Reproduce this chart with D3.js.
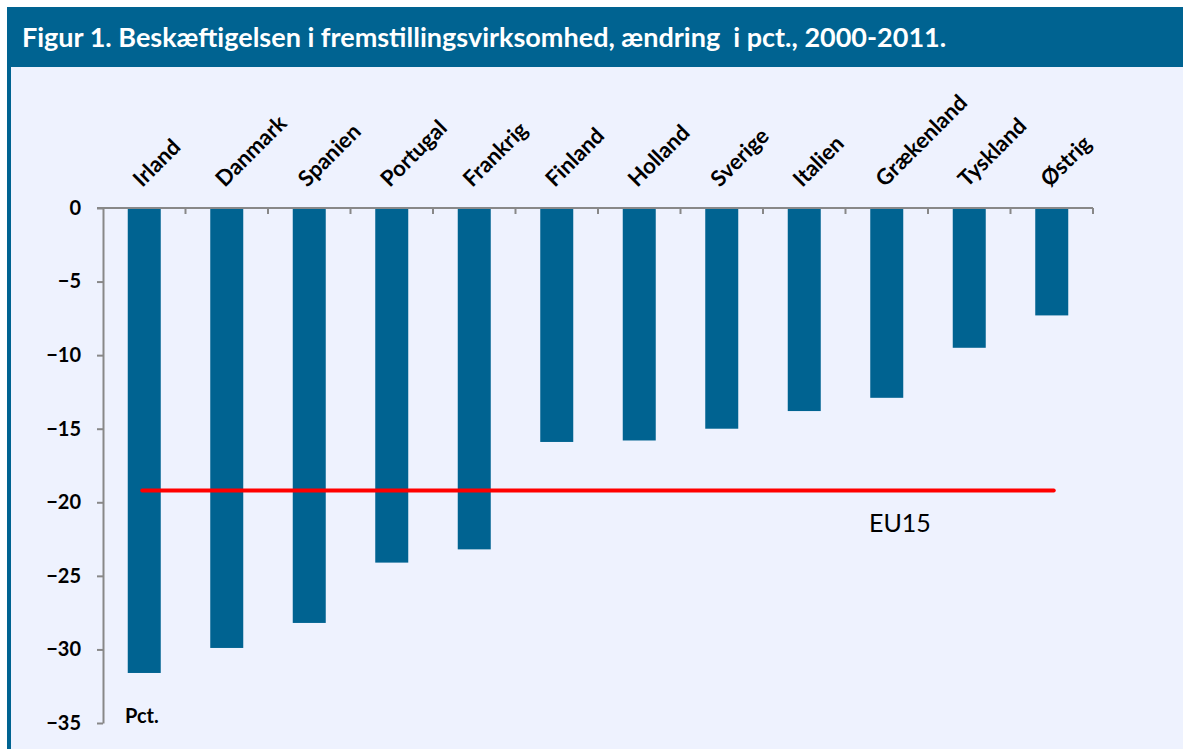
<!DOCTYPE html>
<html>
<head>
<meta charset="utf-8">
<script src="https://cdn.jsdelivr.net/npm/d3@7"></script>
<style>
  body { margin: 0; background: #fff; }
  svg { display: block; font-family: Lato, "Open Sans", sans-serif; }
</style>
</head>
<body>
<svg width="1183" height="749"></svg>
<script>
// Data
const countries = ["Irland", "Danmark", "Spanien", "Portugal", "Frankrig", "Finland",
                   "Holland", "Sverige", "Italien", "Grækenland", "Tyskland", "Østrig"];
const change = [-31.6, -29.9, -28.2, -24.1, -23.2, -15.9, -15.8, -15.0, -13.8, -12.9, -9.5, -7.3];
const eu15 = -19.2;
const yTicks = [0, -5, -10, -15, -20, -25, -30, -35];
const title = "Figur 1. Beskæftigelsen i fremstillingsvirksomhed, ændring  i pct., 2000-2011.";

const svg = d3.select("svg"),
      width = +svg.attr("width"),
      height = +svg.attr("height");

const blue = "#006391";

// Panel and header
svg.append("rect").attr("x", 7).attr("y", 7).attr("width", width - 7).attr("height", height - 7)
    .attr("fill", "#eef2fe");
svg.append("rect").attr("x", 7).attr("y", 7).attr("width", 4).attr("height", height - 7)
    .attr("fill", blue);
svg.append("rect").attr("x", 7).attr("y", 7).attr("width", width - 7).attr("height", 60)
    .attr("fill", blue);
svg.append("text").attr("x", 22).attr("y", 47)
    .attr("fill", "#fff").attr("font-weight", "bold").attr("font-size", 27)
    .style("white-space", "pre")
    .text(title);

// Scales
const x = d3.scaleBand().domain(countries).range([103, 1093]).paddingInner(0.6).paddingOuter(0.3);
const y = d3.scaleLinear().domain([0, -35]).range([208, 723]);

// Bars
svg.append("g")
    .selectAll("rect")
    .data(countries)
    .enter().append("rect")
    .attr("x", d => x(d))
    .attr("width", x.bandwidth())
    .attr("y", y(0))
    .attr("height", (d, i) => y(change[i]) - y(0))
    .attr("fill", blue);

// Y axis
const yAxis = svg.append("g")
    .attr("transform", "translate(103,0)")
    .call(d3.axisLeft(y).tickValues(yTicks).tickSize(6).tickSizeOuter(0).tickPadding(16));
yAxis.select(".domain").attr("stroke", "#888").attr("stroke-width", 2);
yAxis.selectAll(".tick line").attr("stroke", "#888").attr("stroke-width", 2);
yAxis.selectAll(".tick text")
    .attr("font-family", "Lato, sans-serif").attr("font-size", 20).attr("font-weight", "bold")
    .attr("fill", "#000");

// X axis line with ticks at band boundaries
const bounds = d3.range(countries.length + 1).map(i => 103 + i * (1093 - 103) / countries.length);
svg.append("line").attr("x1", 97).attr("x2", 1093).attr("y1", y(0)).attr("y2", y(0))
    .attr("stroke", "#888").attr("stroke-width", 2);
svg.append("g").selectAll("line")
    .data(bounds.slice(1))
    .enter().append("line")
    .attr("x1", d => d).attr("x2", d => d)
    .attr("y1", y(0)).attr("y2", y(0) + 6)
    .attr("stroke", "#888").attr("stroke-width", 2);

// Category labels, rotated
svg.append("g").selectAll("text")
    .data(countries)
    .enter().append("text")
    .attr("transform", d => `translate(${x(d) + x.bandwidth() / 2 - 2},${y(0) - 20}) rotate(-45)`)
    .attr("font-size", 22).attr("font-weight", "bold").attr("fill", "#000")
    .text(d => d);

// EU15 line
const first = countries[0], last = countries[countries.length - 1];
svg.append("line")
    .attr("x1", x(first) + x.bandwidth() / 2 - 2)
    .attr("x2", x(last) + x.bandwidth() / 2 + 2)
    .attr("y1", y(eu15)).attr("y2", y(eu15))
    .attr("stroke", "#ff0000").attr("stroke-width", 4).attr("stroke-linecap", "round");
svg.append("text").attr("x", 869).attr("y", y(eu15) + 41)
    .attr("font-size", 25).attr("fill", "#000")
    .text("EU15");

// Unit label
svg.append("text").attr("x", 125).attr("y", 723)
    .attr("font-size", 20).attr("font-weight", "bold").attr("fill", "#000")
    .text("Pct.");
</script>
</body>
</html>
